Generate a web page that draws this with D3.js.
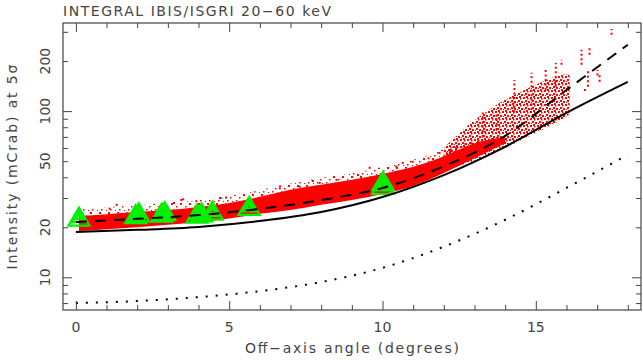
<!DOCTYPE html>
<html>
<head>
<meta charset="utf-8">
<script src="https://cdn.jsdelivr.net/npm/d3@7"></script>
<style>
body { margin: 0; background: #fff; }
text { font-family: "DejaVu Sans", sans-serif; fill: #444; }
</style>
</head>
<body>
<div id="chart"></div>
<script>
// limit curves, every 2 degrees
var curveAngles = [0, 2, 4, 6, 8, 10, 12, 14, 16, 18]
var solidLimit = [18.75, 19.3, 20.1, 21.8, 24.7, 30.4, 41.2, 61, 97.7, 150]
var dashedLimit = [21.5, 22.5, 23.7, 25.8, 29.2, 34.5, 46.6, 71, 134, 251]
var dottedLimit = [7.0, 7.2, 7.6, 8.26, 9.37, 11.4, 15.3, 22.2, 34.5, 54.6]

// dense red cloud of measurements (lower / upper edge) and its thinner upper fringe
var bandAngles = [0.1, 1, 2, 3, 4, 5, 6, 7, 8, 9, 10, 11, 12, 13, 14]
var bandLow = [19.0, 19.5, 20.0, 20.7, 21.5, 22.6, 24.1, 25.4, 27.3, 29.2, 31.7, 35.5, 42.5, 52, 64]
var bandHigh = [23.4, 24.0, 24.7, 25.4, 26.5, 28.0, 30.5, 33.6, 36.0, 38.6, 41.9, 46.2, 53.6, 64, 70]
var fringeHigh = [25.7, 26.4, 27.1, 28.0, 29.1, 30.8, 33.5, 36.9, 39.6, 42.4, 46.1, 50.8, 59, 66, 72]

// thinner cloud at large angles
var sparseAngles = [12, 13, 14, 15, 16, 16.1]
var sparseLow = [45, 50, 60, 74, 93, 96]
var sparseHigh = [60, 88, 117, 144, 166, 166]

// vertical streaks of points
var streakAngle = [13.27, 13.72, 14.3, 14.86, 15.32, 15.65, 15.84, 16.49, 16.7, 16.75, 17.01, 17.08, 17.47]
var streakLow = [70, 77, 98, 102, 134, 140, 190, 190, 140, 218, 164, 150, 288]
var streakHigh = [98, 98, 154, 170, 177, 195, 204, 234, 177, 245, 177, 170, 312]

// isolated points above the cloud
var dotAngle = [1.1, 1.33, 3.2, 3.44, 3.5, 3.93, 4.7, 4.9, 6.65, 6.87, 7.3, 7.73, 7.95, 8.5, 9.2, 9.58, 10.45, 10.66, 10.98, 11.5, 11.86, 12.2, 12.4, 12.9, 16.6]
var dotValue = [25.9, 27.3, 28.0, 29.2, 29.5, 28.7, 30.0, 30.2, 34.3, 31.3, 35.1, 38.0, 37.0, 38.6, 41.3, 45.6, 46.4, 48.8, 49.6, 52, 56, 57, 60, 64, 134]

// sources (green triangles)
var srcAngle = [0.1, 1.95, 2.05, 2.8, 2.9, 3.95, 4.1, 4.45, 5.65, 10.0, 10.02]
var srcValue = [23.2, 24.0, 24.6, 24.5, 25.0, 24.2, 24.6, 25.2, 26.9, 36.0, 38.0]

var xMajor = [0, 5, 10, 15]
var xMinor = d3.range(1, 19).filter(function (d) { return d % 5 != 0 })
var yMajor = [10, 100]
var yMinor = [7, 8, 9, 20, 30, 40, 50, 60, 70, 80, 90, 200, 300]
var yLabels = [10, 20, 50, 100, 200]

var width = 643, height = 360
var margin = {top: 23, right: 2, bottom: 50, left: 63}
var w = width - margin.left - margin.right
var h = height - margin.top - margin.bottom

var x = d3.scaleLinear().domain([-0.42, 18.43]).range([0, w])
var y = d3.scaleLog().domain([6.36, 339]).range([h, 0])

var svg = d3.select("#chart").append("svg")
    .attr("width", width)
    .attr("height", height)

var defs = svg.append("defs")
function speckle(id, size, spots) {
    var p = defs.append("pattern")
        .attr("id", id)
        .attr("patternUnits", "userSpaceOnUse")
        .attr("width", size).attr("height", size)
    spots.forEach(function (s) {
        p.append("rect").attr("x", s[0]).attr("y", s[1])
            .attr("width", s[2]).attr("height", s[2]).attr("fill", "red")
    })
}
speckle("thin", 9, [[0, 0, 2], [5, 3, 1.5], [2, 6, 1.5], [7, 7, 1]])
speckle("thick", 7, [[0, 0, 2], [3, 1, 2], [1, 3, 2], [5, 4, 2], [2, 5, 1.5], [6, 2, 1]])

var g = svg.append("g")
    .attr("transform", "translate(" + margin.left + "," + margin.top + ")")

var area = d3.area()
    .x(function (d) { return x(d[0]); })
    .y0(function (d) { return y(d[1]); })
    .y1(function (d) { return y(d[2]); })
    .curve(d3.curveMonotoneX)

g.append("path")
    .datum(bandAngles.map(function (a, i) { return [a, bandHigh[i], fringeHigh[i]]; }))
    .attr("d", area)
    .attr("fill", "url(#thin)")

g.append("path")
    .datum(sparseAngles.map(function (a, i) { return [a, sparseLow[i], sparseHigh[i]]; }))
    .attr("d", area)
    .attr("fill", "url(#thick)")

g.append("path")
    .datum(bandAngles.map(function (a, i) { return [a, bandLow[i], bandHigh[i]]; }))
    .attr("d", area)
    .attr("fill", "red")

g.selectAll(".streak")
    .data(streakAngle)
    .enter()
    .append("line")
    .attr("class", "streak")
    .attr("x1", function (d) { return x(d); })
    .attr("x2", function (d) { return x(d); })
    .attr("y1", function (d, i) { return y(streakLow[i]); })
    .attr("y2", function (d, i) { return y(streakHigh[i]); })
    .attr("stroke", "red")
    .attr("stroke-width", 2)
    .attr("stroke-dasharray", "2,2.5")

g.selectAll(".dot")
    .data(dotAngle)
    .enter()
    .append("rect")
    .attr("class", "dot")
    .attr("x", function (d) { return x(d) - 1; })
    .attr("y", function (d, i) { return y(dotValue[i]) - 1; })
    .attr("width", 2)
    .attr("height", 2)
    .attr("fill", "red")

// nested outline triangles
function tri(cx, cy, s) {
    var hw = 10.5 * s, hh = 9 * s
    return "M" + cx + "," + (cy - hh) + "L" + (cx + hw) + "," + (cy + hh) + "L" + (cx - hw) + "," + (cy + hh) + "Z"
}
srcAngle.forEach(function (a, i) {
    [1, 0.62, 0.28].forEach(function (s) {
        g.append("path")
            .attr("d", tri(x(a), y(srcValue[i]), s))
            .attr("fill", "none")
            .attr("stroke", "#00f000")
            .attr("stroke-width", 2.2)
    })
})

var line = d3.line()
    .x(function (d) { return x(d[0]); })
    .y(function (d) { return y(d[1]); })
    .curve(d3.curveMonotoneX)

function curveData(vals) {
    return curveAngles.map(function (a, i) { return [a, vals[i]]; })
}

g.append("path").datum(curveData(solidLimit)).attr("d", line)
    .attr("fill", "none").attr("stroke", "black").attr("stroke-width", 2)
g.append("path").datum(curveData(dashedLimit)).attr("d", line)
    .attr("fill", "none").attr("stroke", "black").attr("stroke-width", 2)
    .attr("stroke-dasharray", "11,8")
g.append("path").datum(curveData(dottedLimit)).attr("d", line)
    .attr("fill", "none").attr("stroke", "black").attr("stroke-width", 2)
    .attr("stroke-dasharray", "2,8")

// frame and ticks
var axisColor = "#444"
function ticks(axis, transform) {
    var a = g.append("g").attr("transform", transform).call(axis)
    a.select(".domain").remove()
    a.selectAll("line").attr("stroke", axisColor)
    a.selectAll("text").remove()
}
ticks(d3.axisBottom(x).tickValues(xMajor).tickSize(-9), "translate(0," + h + ")")
ticks(d3.axisBottom(x).tickValues(xMinor).tickSize(-5), "translate(0," + h + ")")
ticks(d3.axisTop(x).tickValues(xMajor).tickSize(-9), "translate(0,0)")
ticks(d3.axisTop(x).tickValues(xMinor).tickSize(-5), "translate(0,0)")
ticks(d3.axisLeft(y).tickValues(yMajor).tickSize(-9), "translate(0,0)")
ticks(d3.axisLeft(y).tickValues(yMinor).tickSize(-5), "translate(0,0)")
ticks(d3.axisRight(y).tickValues(yMajor).tickSize(-9), "translate(" + w + ",0)")
ticks(d3.axisRight(y).tickValues(yMinor).tickSize(-5), "translate(" + w + ",0)")

g.append("rect")
    .attr("width", w).attr("height", h)
    .attr("fill", "none").attr("stroke", axisColor).attr("stroke-width", 1.2)

g.selectAll(".xlab")
    .data(xMajor)
    .enter()
    .append("text")
    .attr("x", function (d) { return x(d); })
    .attr("y", h + 22)
    .attr("text-anchor", "middle")
    .style("font-size", "14px")
    .text(function (d) { return d; })

g.selectAll(".ylab")
    .data(yLabels)
    .enter()
    .append("text")
    .attr("transform", function (d) { return "translate(-13," + y(d) + ") rotate(-90)"; })
    .attr("text-anchor", "middle")
    .style("font-size", "14px")
    .text(function (d) { return d; })

svg.append("text")
    .attr("x", 63).attr("y", 15.5)
    .attr("textLength", 268).attr("lengthAdjust", "spacing")
    .style("font-size", "14px")
    .text("INTEGRAL IBIS/ISGRI 20\u221260 keV")

svg.append("text")
    .attr("x", margin.left + w / 2).attr("y", 353)
    .attr("text-anchor", "middle")
    .attr("textLength", 214).attr("lengthAdjust", "spacing")
    .style("font-size", "14px")
    .text("Off\u2212axis angle (degrees)")

svg.append("text")
    .attr("transform", "translate(17,167) rotate(-90)")
    .attr("text-anchor", "middle")
    .attr("textLength", 205).attr("lengthAdjust", "spacing")
    .style("font-size", "14px")
    .text("Intensity (mCrab) at 5\u03c3")
</script>
</body>
</html>
